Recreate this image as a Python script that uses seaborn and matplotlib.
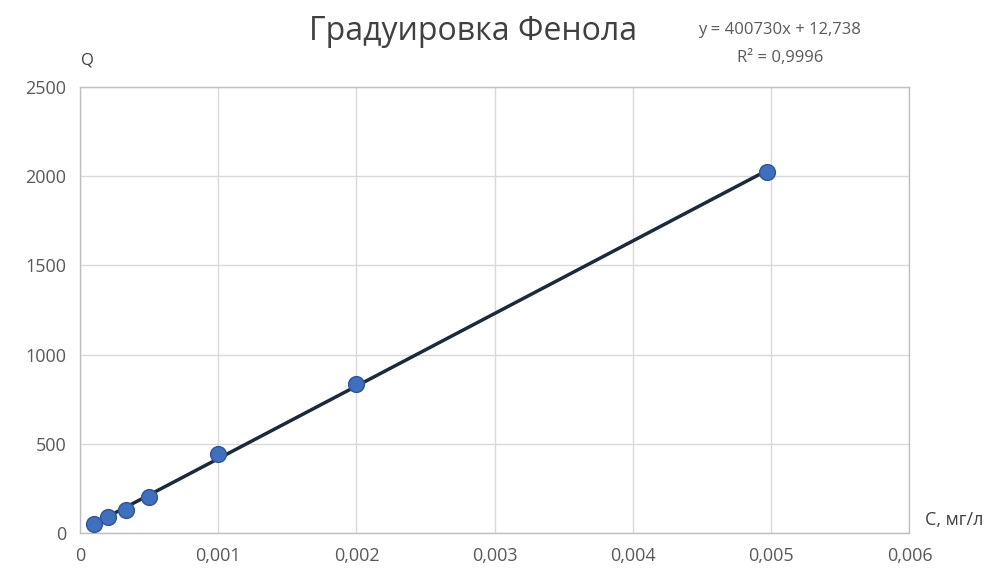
import numpy as np
import pandas as pd
import matplotlib
matplotlib.use("Agg")
import matplotlib.pyplot as plt
import seaborn as sns

# Данные градуировки
conc = [0.0001, 0.0002, 0.00033, 0.0005, 0.001, 0.002, 0.00497]
signal = [50, 90, 130, 200, 440, 835, 2025]
x_ticks = [0, 0.001, 0.002, 0.003, 0.004, 0.005, 0.006]
x_labels = ["0", "0,001", "0,002", "0,003", "0,004", "0,005", "0,006"]
y_ticks = [0, 500, 1000, 1500, 2000, 2500]

df = pd.DataFrame({"C": conc, "Q": signal})

sns.set_style("white")
plt.rcParams["font.family"] = ["Open Sans", "DejaVu Sans"]

fig = plt.figure(figsize=(9.91, 5.83), dpi=100)
ax = fig.add_axes([0.0807, 0.0858, 0.837, 0.765])

# линия тренда
k, b = np.polyfit(df["C"], df["Q"], 1)
xs = np.array([df["C"].min(), df["C"].max()])
ax.plot(xs, k * xs + b, color="#1c2a3a", lw=2.5, zorder=2)

sns.scatterplot(x="C", y="Q", data=df, ax=ax, s=130, color="#3f6fbf",
                edgecolor="#2f5597", linewidth=1, zorder=3)

ax.set_xlim(0, 0.006)
ax.set_ylim(0, 2500)
ax.set_xticks(x_ticks)
ax.set_xticklabels(x_labels)
ax.set_yticks(y_ticks)
ax.grid(True, color="#d9d9d9", lw=1)
for s in ax.spines.values():
    s.set_color("#bfbfbf")
    s.set_linewidth(1)
ax.tick_params(axis="both", length=0, labelsize=13, labelcolor="#595959", pad=10)
ax.set_xlabel("")
ax.set_ylabel("")

fig.text(0.477, 0.946, "Градуировка Фенола", ha="center", va="center",
         fontsize=23, color="#404040")
fig.text(0.787, 0.948, "y = 400730x + 12,738", ha="center", va="center",
         fontsize=12, color="#595959")
fig.text(0.787, 0.9, "R² = 0,9996", ha="center", va="center",
         fontsize=12, color="#595959")
fig.text(0.088, 0.897, "Q", ha="center", va="center", fontsize=12, color="#404040")
fig.text(0.963, 0.108, "С, мг/л", ha="center", va="center", fontsize=13, color="#404040")

plt.savefig("out.png", dpi=100)
